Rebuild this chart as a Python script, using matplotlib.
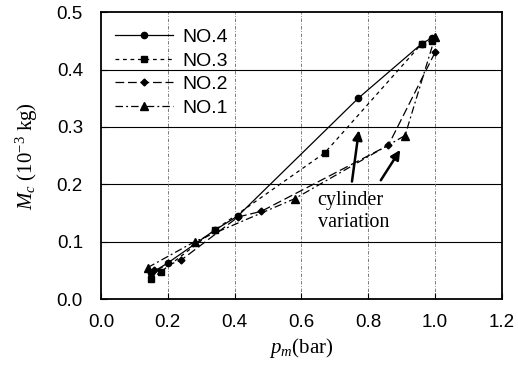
import matplotlib
matplotlib.use("Agg")
import matplotlib.pyplot as plt

# Data
no4_x = [0.15, 0.20, 0.34, 0.41, 0.77, 0.96, 0.99]
no4_y = [0.045, 0.063, 0.120, 0.145, 0.350, 0.445, 0.455]
no3_x = [0.15, 0.18, 0.34, 0.67, 0.96, 0.99]
no3_y = [0.035, 0.048, 0.120, 0.255, 0.445, 0.450]
no2_x = [0.16, 0.24, 0.41, 0.48, 0.86, 1.00]
no2_y = [0.050, 0.068, 0.143, 0.153, 0.268, 0.430]
no1_x = [0.14, 0.28, 0.58, 0.91, 1.00]
no1_y = [0.055, 0.100, 0.175, 0.285, 0.457]

x_ticks = [0.0, 0.2, 0.4, 0.6, 0.8, 1.0, 1.2]
y_ticks = [0.0, 0.1, 0.2, 0.3, 0.4, 0.5]

sans = ["Liberation Sans", "DejaVu Sans"]
serif = ["Liberation Serif", "DejaVu Serif"]
plt.rcParams["mathtext.fontset"] = "custom"
plt.rcParams["mathtext.it"] = "Liberation Serif:italic"
plt.rcParams["mathtext.rm"] = "Liberation Serif"

fig = plt.figure(figsize=(5.18, 3.67), dpi=100)
ax = fig.add_axes([0.195, 0.185, 0.774, 0.782])

for yv in y_ticks[1:-1]:
    ax.axhline(yv, color="black", lw=0.8, zorder=1)
for xv in x_ticks[1:-1]:
    ax.axvline(xv, color="#666666", lw=0.6, ls=(0, (4, 2, 1, 2)), zorder=1)

ax.plot(no4_x, no4_y, ls="-", color="black", lw=0.9, marker="o", ms=4.5, label="NO.4", zorder=3)
ax.plot(no3_x, no3_y, ls=(0, (3, 3)), color="black", lw=0.9, marker="s", ms=5, label="NO.3", zorder=3)
ax.plot(no2_x, no2_y, ls=(0, (7, 3)), color="black", lw=0.9, marker="D", ms=3.5, label="NO.2", zorder=3)
ax.plot(no1_x, no1_y, ls=(0, (6, 2.5, 1.5, 2.5)), color="black", lw=0.9, marker="^", ms=5.5, label="NO.1", zorder=3)

ax.set_xlim(0, 1.2)
ax.set_ylim(0, 0.5)
ax.set_xticks(x_ticks)
ax.set_yticks(y_ticks)
ax.set_xticklabels([f"{v:.1f}" for v in x_ticks], family=sans, fontsize=13.5)
ax.set_yticklabels([f"{v:.1f}" for v in y_ticks], family=sans, fontsize=13.5)
ax.tick_params(direction="in", length=4, width=0.8)
ax.tick_params(axis="x", pad=11)
ax.tick_params(axis="y", pad=13)
for s in ax.spines.values():
    s.set_linewidth(1.3)

ax.set_xlabel(r"$p_m$(bar)", family=serif, fontsize=15, labelpad=3)
ax.set_ylabel(r"$M_c$ (10$^{-3}$ kg)", family=serif, fontsize=15, labelpad=12)

leg = ax.legend(loc="upper left", frameon=False, prop={"family": sans, "size": 14},
                handlelength=3.0, handletextpad=0.5, labelspacing=0.3,
                borderaxespad=0.3, bbox_to_anchor=(0.0, 0.99))

ax.text(0.648, 0.172, "cylinder", family=serif, fontsize=14.5, va="center", ha="left")
ax.text(0.648, 0.134, "variation", family=serif, fontsize=14.5, va="center", ha="left")
ax.annotate("", xy=(0.773, 0.299), xytext=(0.75, 0.20),
            arrowprops=dict(arrowstyle="-|>", color="black", lw=1.8, mutation_scale=14))
ax.annotate("", xy=(0.90, 0.264), xytext=(0.833, 0.203),
            arrowprops=dict(arrowstyle="-|>", color="black", lw=1.8, mutation_scale=14))

fig.savefig("out.png", dpi=100)
